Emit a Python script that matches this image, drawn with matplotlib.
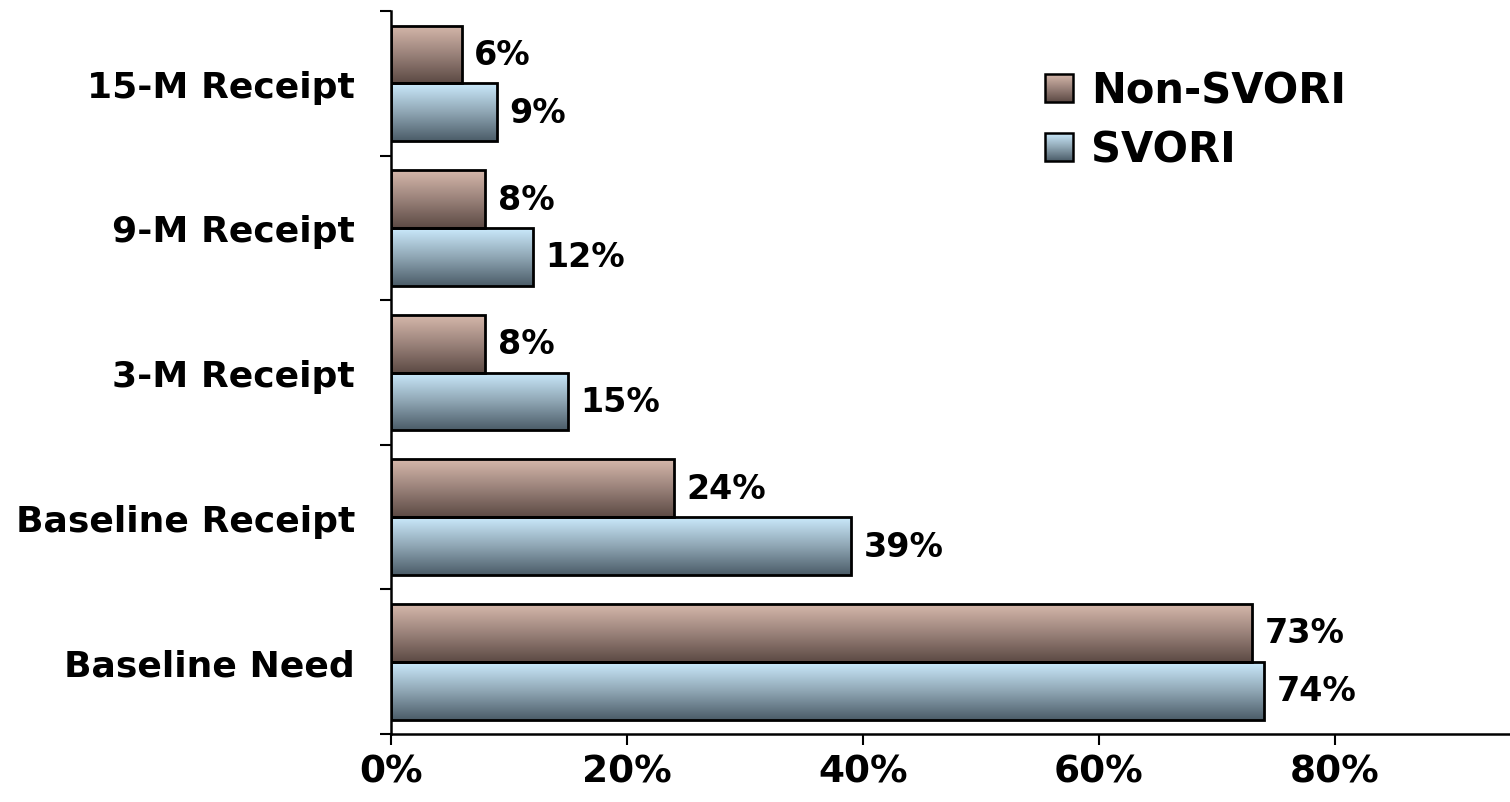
import numpy as np
import matplotlib
matplotlib.use("Agg")
import matplotlib.pyplot as plt
from matplotlib.patches import Rectangle
from matplotlib.legend_handler import HandlerBase
from matplotlib.image import BboxImage
from matplotlib.transforms import Bbox, TransformedBbox
from matplotlib.colors import LinearSegmentedColormap

categories = ["Baseline Need", "Baseline Receipt", "3-M Receipt", "9-M Receipt", "15-M Receipt"]
non_svori = [73, 24, 8, 8, 6]
svori = [74, 39, 15, 12, 9]
series_names = ["Non-SVORI", "SVORI"]
xtick_vals = [0, 20, 40, 60, 80]
xtick_labels = ["0%", "20%", "40%", "60%", "80%"]

# colormaps: value 0 = bottom (dark), 1 = top (light)
cmap_non = LinearSegmentedColormap.from_list("non", ["#5c4a44", "#9a827a", "#d6b8ab"])
cmap_sv = LinearSegmentedColormap.from_list("sv", ["#4b5c68", "#8fa6b4", "#cbeafc"])

plt.rcParams['font.family'] = ['DejaVu Sans']
fig = plt.figure(figsize=(15.1, 8.03), dpi=100)
ax = fig.add_axes([0.259, 0.0847, 0.7405, 0.9003])

grad = np.linspace(0, 1, 256).reshape(-1, 1)
h = 0.4
y = np.arange(len(categories))

def grad_bars(bars, cmap):
    for b in bars:
        x0, y0 = b.get_x(), b.get_y()
        w, hh = b.get_width(), b.get_height()
        im = ax.imshow(grad, cmap=cmap, aspect='auto', origin='lower',
                       extent=(x0, x0 + w, y0, y0 + hh), zorder=2, vmin=0, vmax=1)
        im.set_clip_path(b)

b1 = ax.barh(y + h / 2, non_svori, height=h, facecolor='none', edgecolor='black', linewidth=2.0, zorder=3)
b2 = ax.barh(y - h / 2, svori, height=h, facecolor='none', edgecolor='black', linewidth=2.0, zorder=3)
grad_bars(b1, cmap_non)
grad_bars(b2, cmap_sv)

for yy, v in zip(y + h / 2, non_svori):
    ax.annotate(f"{v}%", (v, yy), xytext=(9, 0), textcoords='offset points',
                va='center', ha='left', fontsize=24, fontweight='bold')
for yy, v in zip(y - h / 2, svori):
    ax.annotate(f"{v}%", (v, yy), xytext=(9, 0), textcoords='offset points',
                va='center', ha='left', fontsize=24, fontweight='bold')

ax.set_xlim(0, 94.8)
ax.set_ylim(-0.5, len(categories) - 0.5)

ax.set_xticks(xtick_vals)
ax.set_xticklabels(xtick_labels, fontsize=27, fontweight='bold')
ax.tick_params(axis='x', direction='out', length=8, width=1.5, pad=6)

ax.set_yticks(np.arange(-0.5, len(categories), 1.0))
ax.set_yticklabels([])
ax.set_yticks(y, minor=True)
ax.set_yticklabels(categories, minor=True, fontsize=26, fontweight='bold')
ax.tick_params(axis='y', which='major', direction='out', length=8, width=1.5)
ax.tick_params(axis='y', which='minor', length=0, pad=26)

for s in ['top', 'right']:
    ax.spines[s].set_visible(False)
ax.spines['left'].set_linewidth(1.8)
ax.spines['bottom'].set_linewidth(1.8)


class GradHandler(HandlerBase):
    def __init__(self, cmap):
        super().__init__()
        self.cmap = cmap

    def create_artists(self, legend, orig_handle, xdescent, ydescent, width, height, fontsize, trans):
        s = 20.0
        x0 = -xdescent
        y0 = -ydescent + (height - s) / 2
        bb = Bbox.from_bounds(x0, y0, s, s)
        tbb = TransformedBbox(bb, trans)
        img = BboxImage(tbb, cmap=self.cmap, norm=plt.Normalize(0, 1), origin='lower')
        img.set_data(grad)
        rect = Rectangle((x0, y0), s, s, facecolor='none', edgecolor='black', linewidth=1.8, transform=trans)
        return [img, rect]

hn = Rectangle((0, 0), 1, 1)
hs = Rectangle((0, 0), 1, 1)
leg = ax.legend([hn, hs], series_names, handler_map={hn: GradHandler(cmap_non), hs: GradHandler(cmap_sv)},
                loc='upper left', bbox_to_anchor=(0.585, 0.919), frameon=False,
                borderaxespad=0, borderpad=0,
                prop={'size': 30, 'weight': 'bold'}, handlelength=0.7, handleheight=0.7,
                handletextpad=0.4, labelspacing=0.4)

fig.savefig("out.png", dpi=100)
